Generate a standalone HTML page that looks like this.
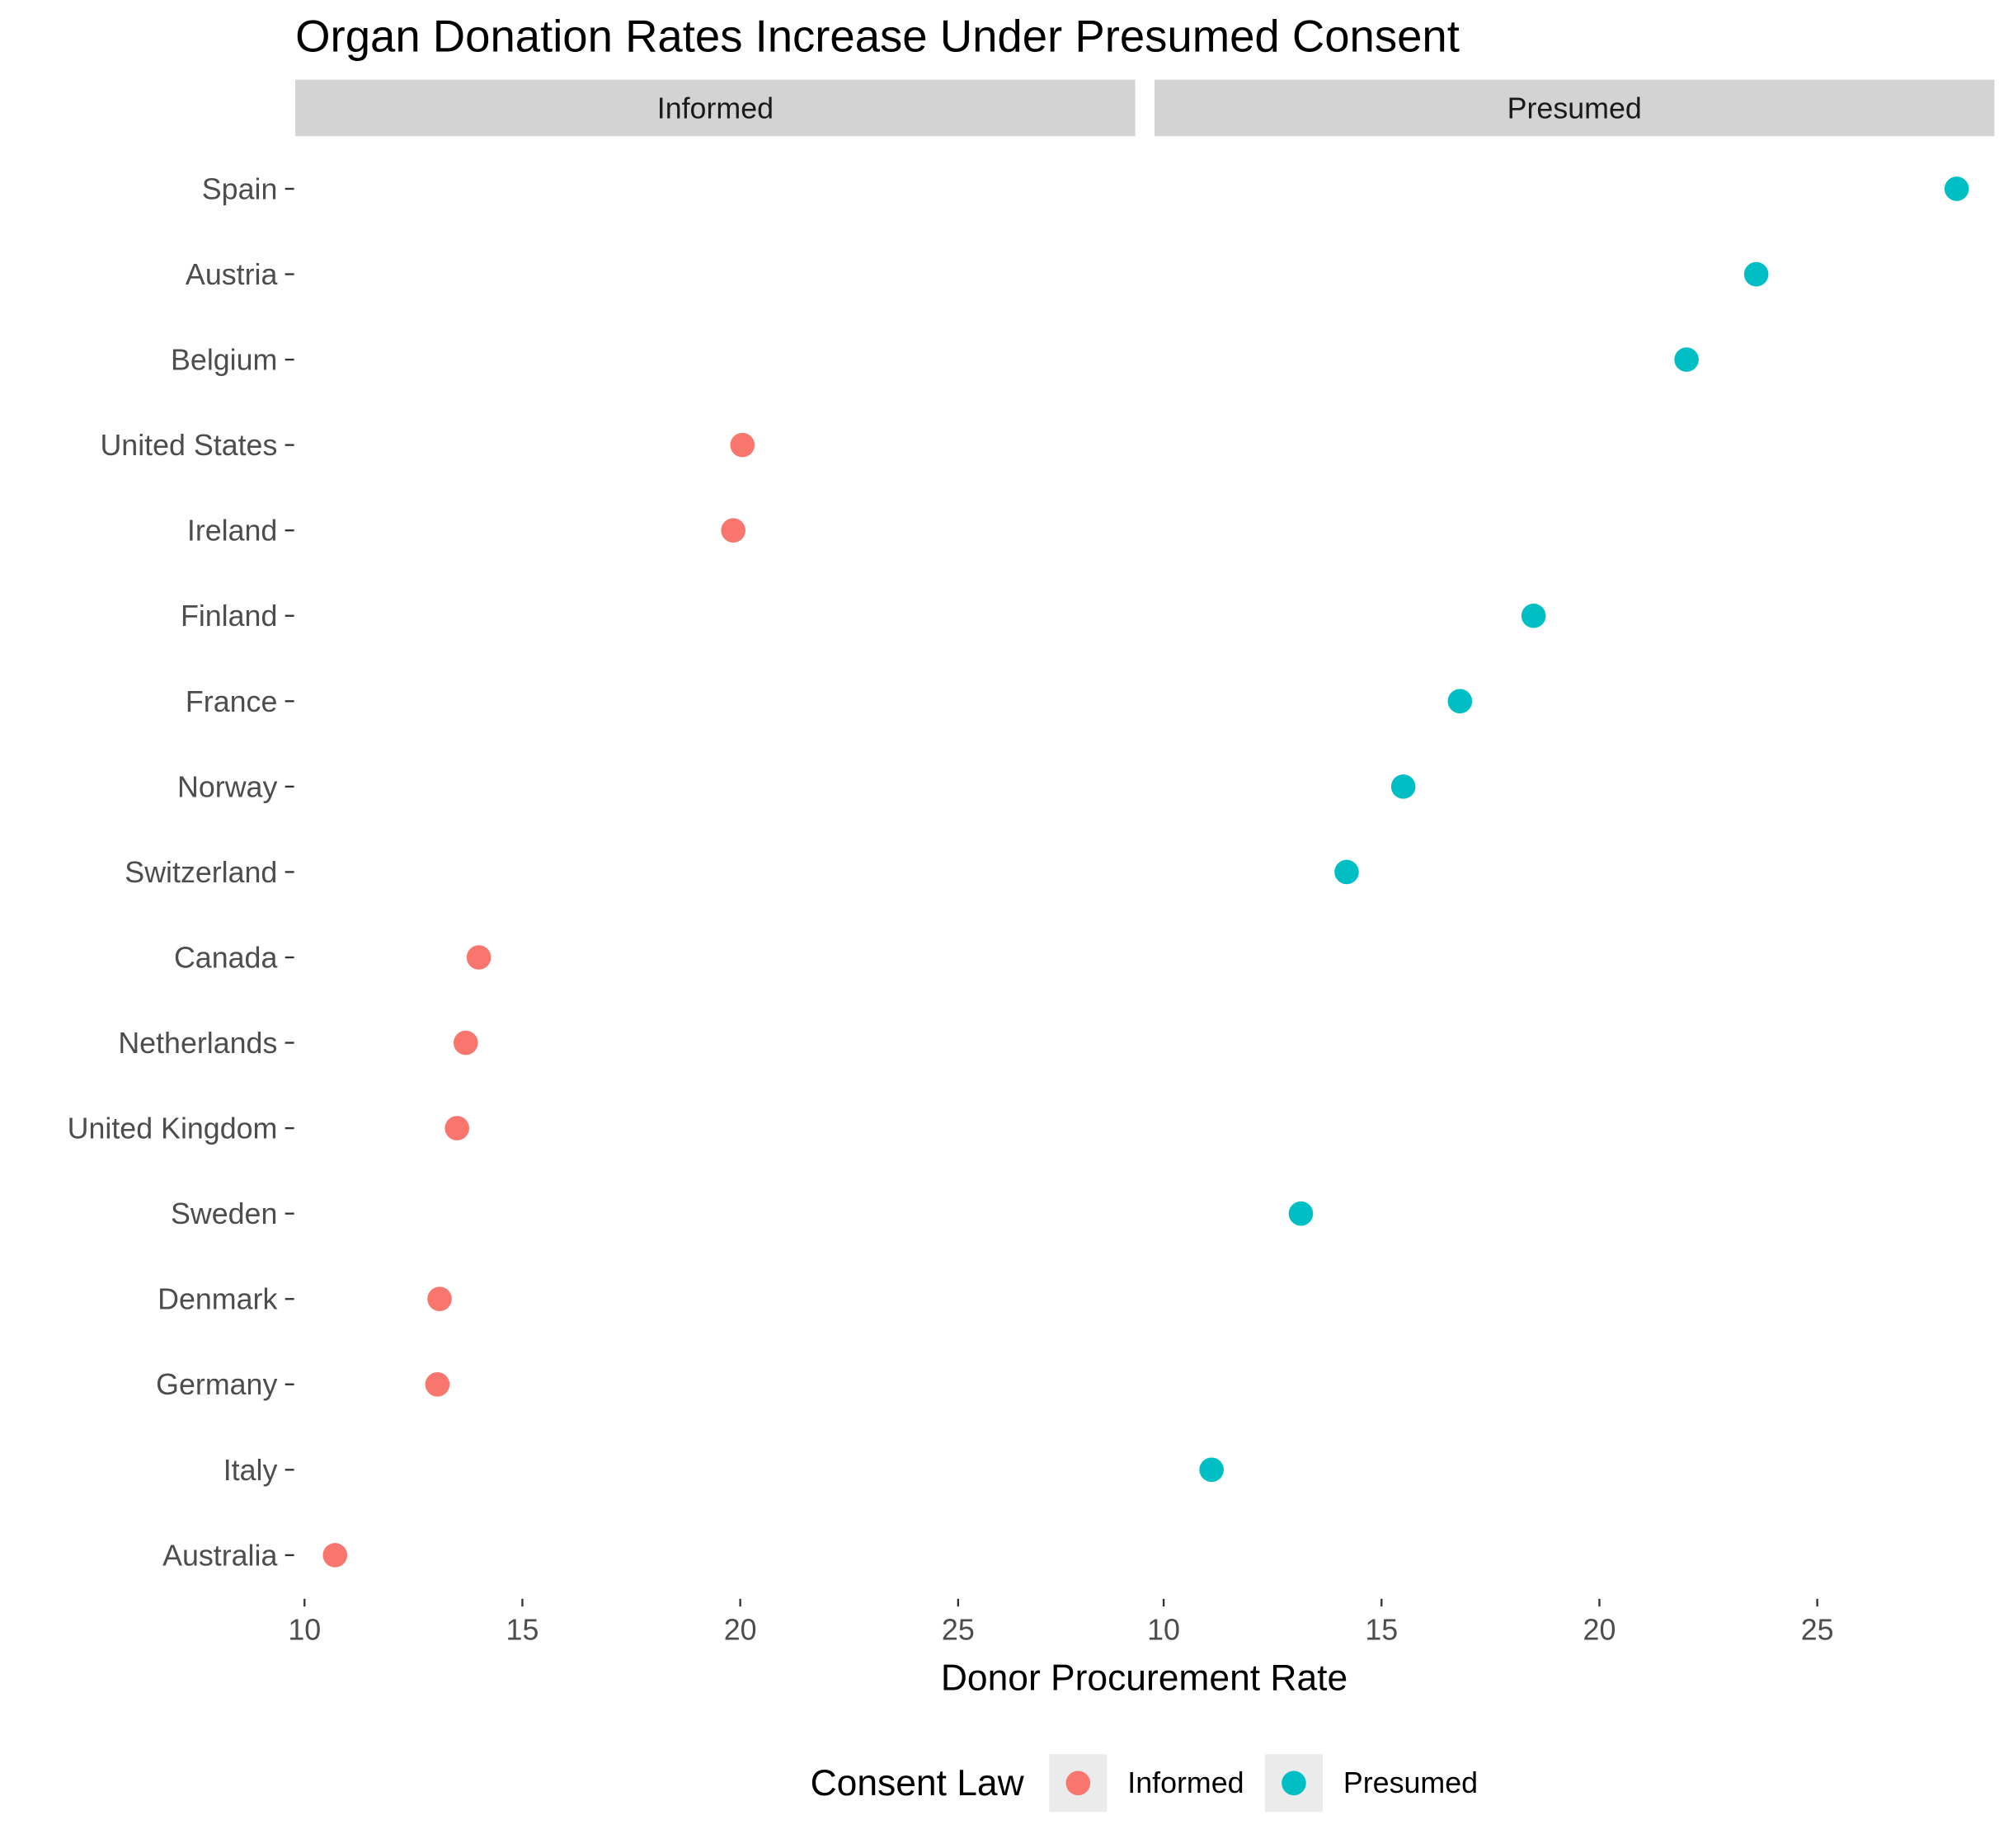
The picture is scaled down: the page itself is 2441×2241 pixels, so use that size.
<!DOCTYPE html>
<html><head><meta charset="utf-8"><style>
html,body{margin:0;padding:0;background:#fff}
svg{display:block}
text{font-family:"Liberation Sans",Arial,sans-serif}
</style></head><body>
<svg id="chart" width="2441" height="2241" viewBox="0 0 1567.5 1439" xmlns="http://www.w3.org/2000/svg">
<text x="230" y="40" font-size="35" fill="#000">Organ Donation Rates Increase Under Presumed Consent</text>
<g id="panels"></g>
<text x="891" y="1316" font-size="28.5" text-anchor="middle" fill="#000">Donor Procurement Rate</text>
<g>
<text x="631" y="1398" font-size="28.5" fill="#000">Consent Law</text>
<rect x="817" y="1366" width="45" height="45" fill="#ebebeb"/>
<circle cx="839.5" cy="1388.5" r="9.5" fill="#F8766D"/>
<text x="878" y="1396" font-size="23" fill="#000">Informed</text>
<rect x="985" y="1366" width="45" height="45" fill="#ebebeb"/>
<circle cx="1007.5" cy="1388.5" r="9.5" fill="#00BFC4"/>
<text x="1046" y="1396" font-size="23" fill="#000">Presumed</text>
</g>
</svg>
<script>
const countries=["Spain","Austria","Belgium","United States","Ireland","Finland","France","Norway","Switzerland","Canada","Netherlands","United Kingdom","Sweden","Denmark","Germany","Italy","Australia"];
const consent=["Presumed","Presumed","Presumed","Informed","Informed","Presumed","Presumed","Presumed","Presumed","Informed","Informed","Informed","Presumed","Informed","Informed","Presumed","Informed"];
const rates=[28.2,23.6,22.0,20.05,19.84,18.49,16.8,15.5,14.2,14.0,13.7,13.5,13.15,13.1,13.05,11.1,10.7];
const panelNames=["Informed","Presumed"];
const xTicks=[10,15,20,25];
const colors={Informed:"#F8766D",Presumed:"#00BFC4"};
const NS="http://www.w3.org/2000/svg";
const grp=document.getElementById('panels');
const panelX=[230,899], panelW=654, panelTop=106, panelBottom=1245;
const xMin=9.79, xMax=9.79+654/33.93;
const firstY=147, stepY=(1211-147)/16;
function yPos(i){return firstY+i*stepY;}
function xPos(p,v){return panelX[p]+(v-xMin)/(xMax-xMin)*panelW;}
function mk(tag,attrs){const e=document.createElementNS(NS,tag);for(const k in attrs)e.setAttribute(k,attrs[k]);return e;}
panelNames.forEach((name,p)=>{
  const s=mk('rect',{x:panelX[p],y:62,width:panelW,height:44,fill:"#d3d3d3"});
  
  
  grp.appendChild(s);
  const st=mk('text',{x:panelX[p]+panelW/2,y:92,'font-size':23,'text-anchor':'middle',fill:'#1a1a1a'});
  st.textContent=name;
  
  
  grp.appendChild(st);
  xTicks.forEach(t=>{
    const x=xPos(p,t);
    const tm=mk('line',{x1:x,x2:x,y1:panelBottom,y2:panelBottom+6,stroke:'#333','stroke-width':1.5});
    
    
    grp.appendChild(tm);
    const tl=mk('text',{x:x,y:panelBottom+32,'font-size':23,'text-anchor':'middle',fill:'#4d4d4d'});
    tl.textContent=t;
    
    
    grp.appendChild(tl);
  });
});
countries.forEach((c,i)=>{
  const y=yPos(i);
  const tm=mk('line',{x1:222,x2:229,y1:y,y2:y,stroke:'#333','stroke-width':1.5});
  
  
  grp.appendChild(tm);
  const tl=mk('text',{x:216,y:y+8,'font-size':23,'text-anchor':'end',fill:'#4d4d4d'});
  tl.textContent=c;
  
  
  grp.appendChild(tl);
  const p=panelNames.indexOf(consent[i]);
  const pt=mk('circle',{cx:xPos(p,rates[i]),cy:y,r:9.5,fill:colors[consent[i]]});
  
  
  grp.appendChild(pt);
});
</script>
</body></html>
